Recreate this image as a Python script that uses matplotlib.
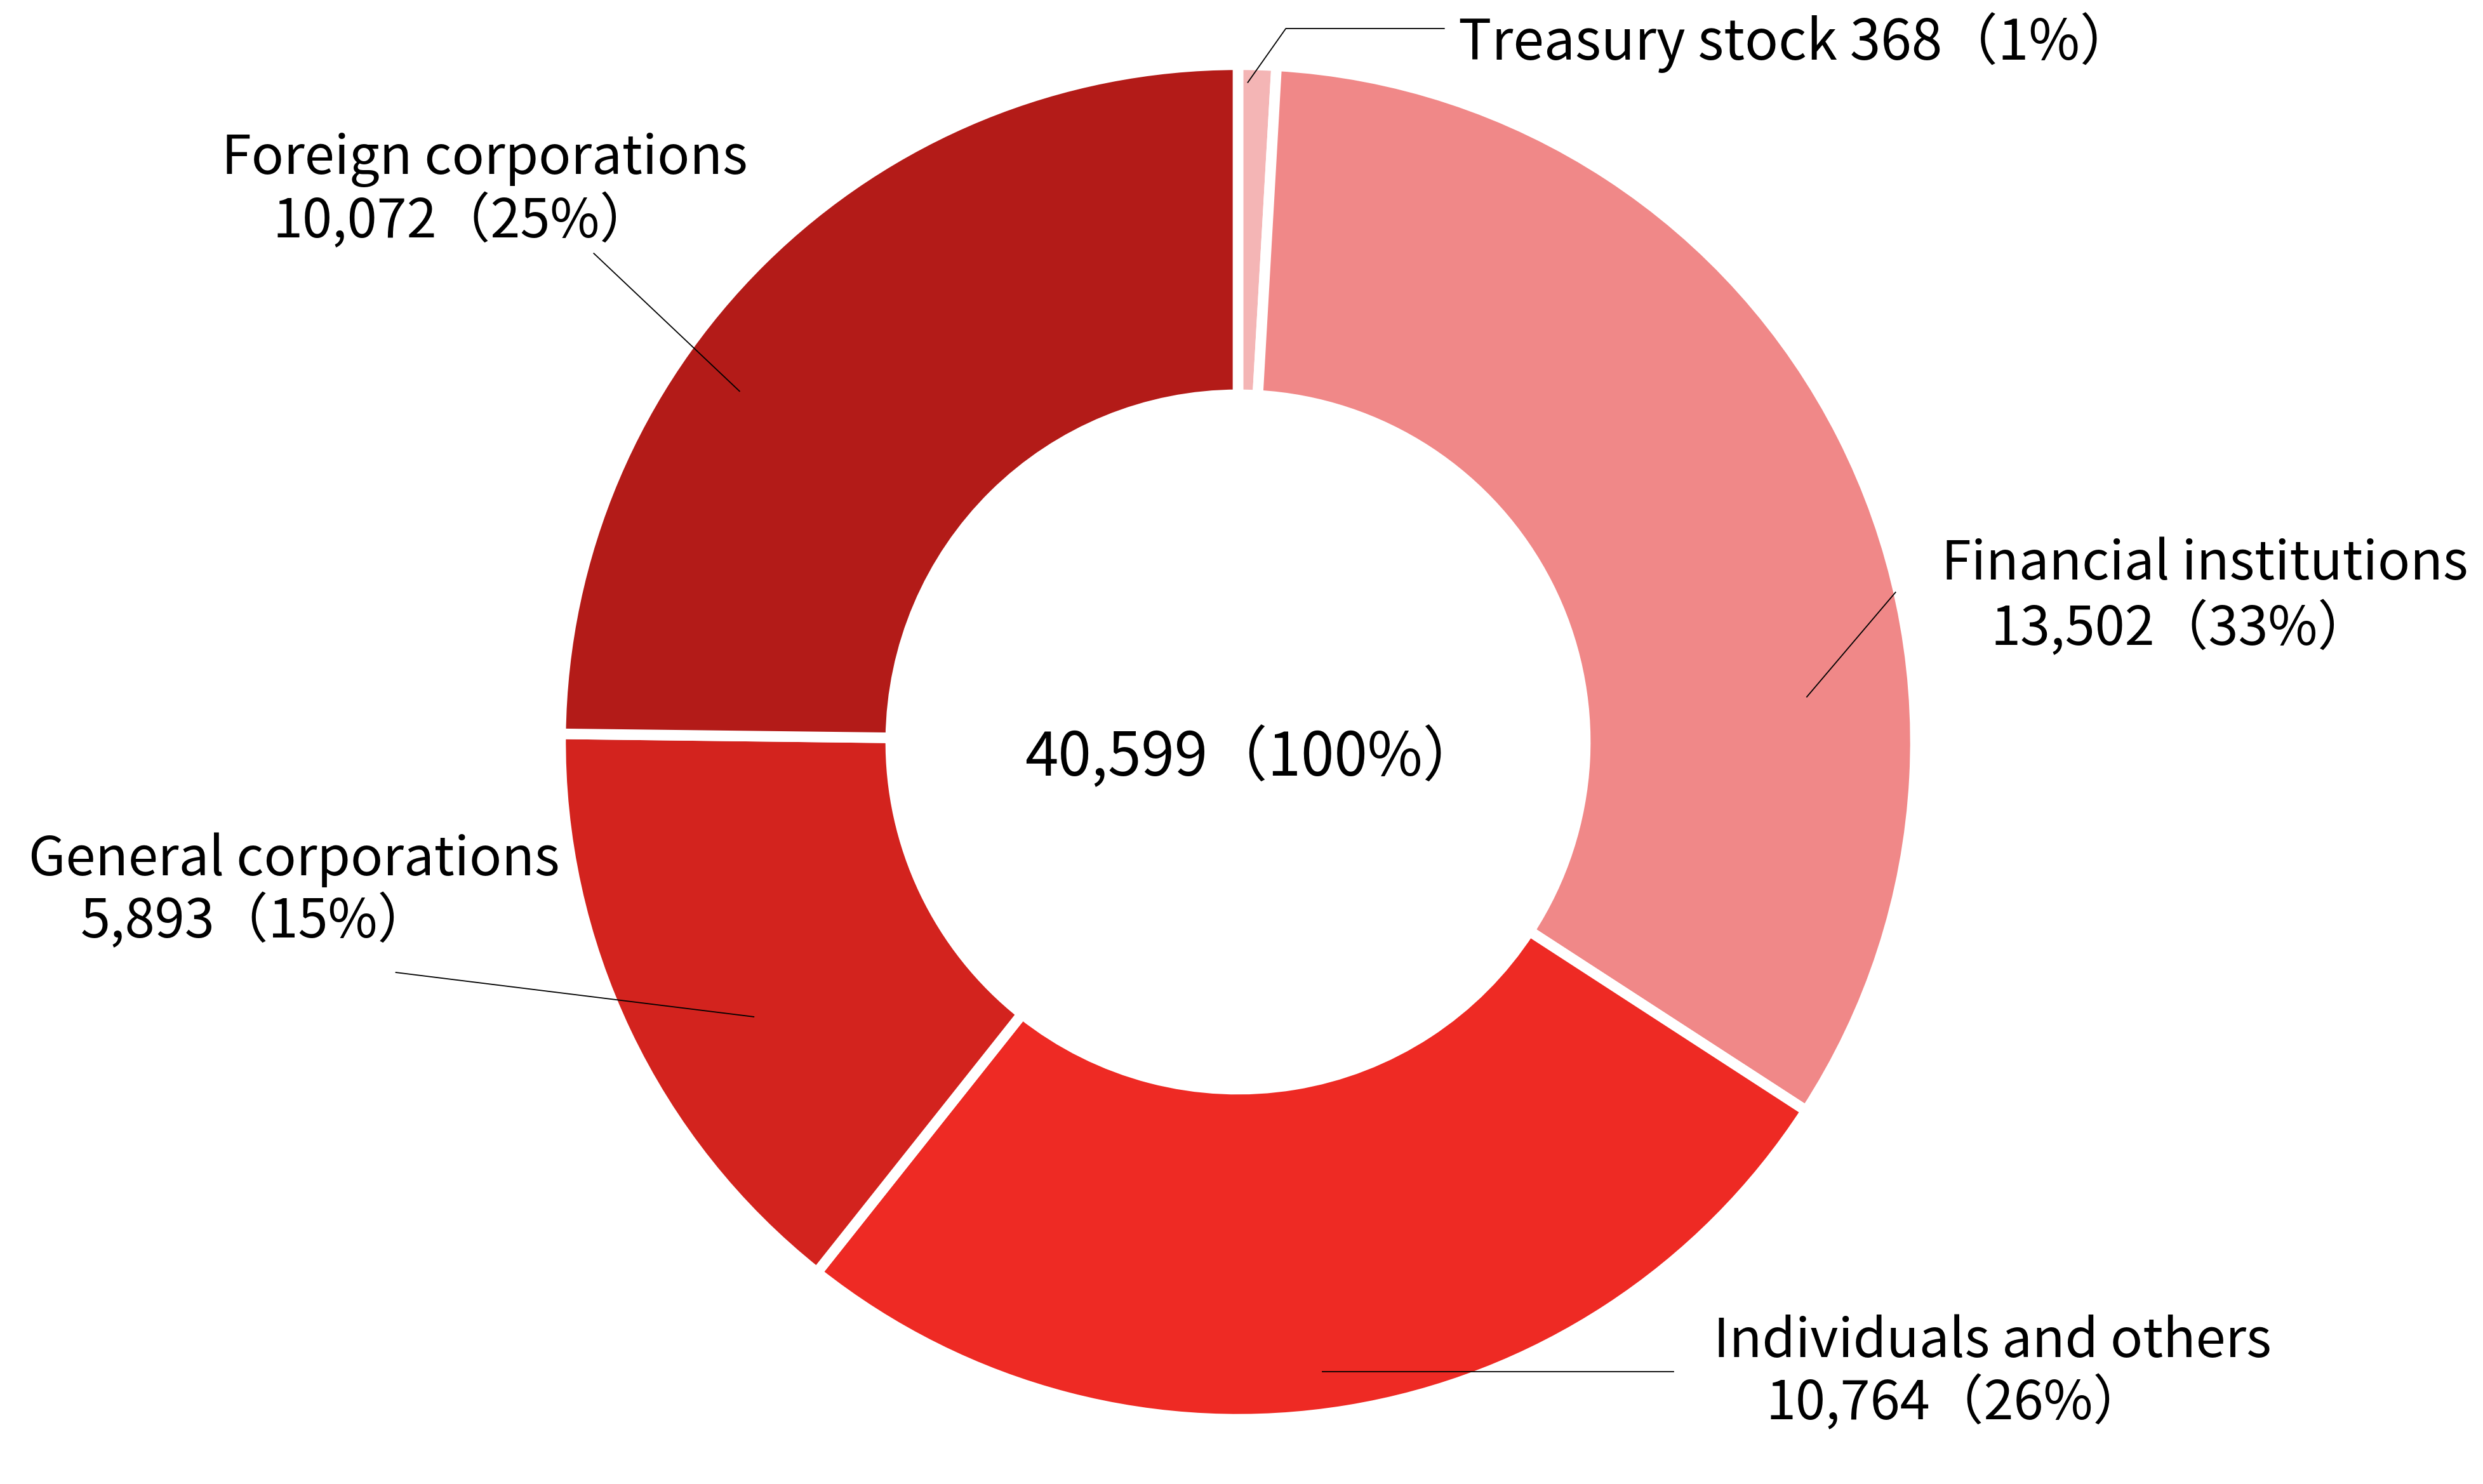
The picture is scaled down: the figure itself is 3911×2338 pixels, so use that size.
import matplotlib.pyplot as plt

plt.rcParams['font.family'] = ['Noto Sans CJK JP', 'DejaVu Sans']

# Részvények megoszlása
labels = ["Treasury stock", "Financial institutions", "Individuals and others",
          "General corporations", "Foreign corporations"]
values = [368, 13502, 10764, 5893, 10072]
percents = [1, 33, 26, 15, 25]
colors = ["#F4B5B5", "#F08888", "#EE2A24", "#D3231E", "#B31B18"]
total = 40599
total_pct = 100

W, H = 3911, 2338
fig = plt.figure(figsize=(W / 100, H / 100), dpi=100)
ax = fig.add_axes([0, 0, 1, 1])

cx, cy = 1950, H - 1169
R = 1067
ax.pie(values, colors=colors, startangle=90, counterclock=False,
       center=(cx, cy), radius=R, frame=True,
       wedgeprops=dict(width=R - 547, edgecolor="white", linewidth=12))
ax.set_xlim(0, W)
ax.set_ylim(0, H)
ax.set_aspect("equal")
ax.axis("off")

fs = 61

def px(x, y):
    return x * W / 1568, H - y * H / 937

def label_lines(line1, line2, c1, c2):
    x1, y1 = px(*c1)
    ax.text(x1, y1, line1, ha="left", va="center", fontsize=fs)
    x2, y2 = px(*c2)
    ax.text(x2, y2, line2, ha="left", va="center", fontsize=fs)

def leader(points, lw=1.3):
    pts = [px(x, y) for x, y in points]
    ax.plot([p[0] for p in pts], [p[1] for p in pts], color="black", lw=lw)

fmt = lambda v, p: f"{v:,}（{p}%）"

# Treasury stock
tx, ty = px(921, 27)
ax.text(tx, ty, f"{labels[0]} {values[0]}（{percents[0]}%）",
        ha="left", va="center", fontsize=63)
leader([(912, 18), (812, 18), (788, 52)])

# Financial institutions
label_lines(labels[1], fmt(values[1], percents[1]), (1226, 356), (1257, 397))
leader([(1197, 374), (1141, 440)])

# Individuals and others
label_lines(labels[2], fmt(values[2], percents[2]), (1082, 847), (1115, 886))
leader([(835, 866), (1057, 866)])

# General corporations
label_lines(labels[3], fmt(values[3], percents[3]), (18, 543), (51, 582))
leader([(250, 614), (476, 642)])

# Foreign corporations
label_lines(labels[4], fmt(values[4], percents[4]), (140, 101), (172, 140))
leader([(375, 160), (467, 247)])

# Összesen
mx, my = px(647, 479)
ax.text(mx, my, f"{total:,}（{total_pct}%）", ha="left", va="center", fontsize=68)

plt.savefig("out.png", dpi=100)
